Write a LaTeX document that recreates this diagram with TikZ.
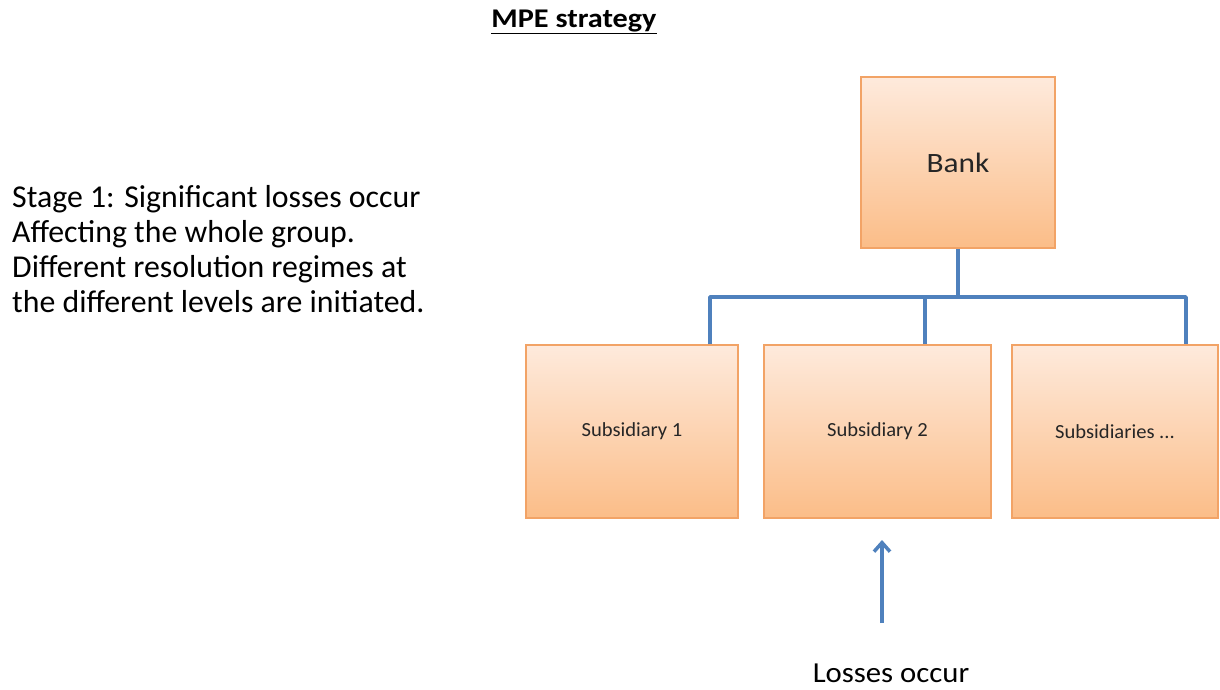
\documentclass[tikz,border=0pt]{standalone}
\usepackage{fontspec}
\setmainfont{Carlito}
\usetikzlibrary{arrows.meta}
\definecolor{boxtop}{HTML}{FEEADC}
\definecolor{boxbot}{HTML}{FBBD88}
\definecolor{boxline}{HTML}{F2A366}
\definecolor{conn}{HTML}{4F81BD}
\newcommand{\widetext}[2]{\scalebox{#1}[1]{#2}}
\tikzset{
  orgbox/.style={draw=boxline, line width=1.5pt, top color=boxtop, bottom color=boxbot, inner sep=0pt, text=black!85},
  link/.style={draw=conn, line width=3.5pt},
}
\begin{document}
\begin{tikzpicture}[x=1pt,y=-1pt]
\useasboundingbox (0,0) rectangle (1220,689);
\node[orgbox, minimum width=194pt, minimum height=171pt, font=\fontsize{28}{32}\selectfont] (bank) at (958,162.5) {\widetext{1.12}{Bank}};
\node[orgbox, minimum width=212pt, minimum height=173pt, font=\fontsize{20}{24}\selectfont] (s1) at (632,431.5) {\widetext{1.03}{Subsidiary 1}};
\node[orgbox, minimum width=227pt, minimum height=173pt, font=\fontsize{20}{24}\selectfont] (s2) at (877.5,431.5) {\widetext{1.03}{Subsidiary 2}};
\node[orgbox, minimum width=206pt, minimum height=173pt, font=\fontsize{20}{24}\selectfont] (s3) at (1115,431.5) {\widetext{1.03}{Subsidiaries ...}};
\coordinate (j) at (958,297);
\coordinate (jl) at (710,297);
\coordinate (jm) at (925,297);
\coordinate (jr) at (1186,297);
\draw[link] (bank.south) -- (j);
\draw[link, line join=round] (s1.north -| jl) -- (jl) -- (jr) -- (s3.north -| jr);
\draw[link] (jm) -- (s2.north -| jm);
\node[font=\bfseries\fontsize{27}{30}\selectfont] (title) at (574,22) {\widetext{1.12}{\underline{MPE strategy}}};
\node[anchor=west, align=left, font=\fontsize{31.8}{35}\selectfont, inner sep=0pt] (stage) at (12,249) {Stage 1: Significant losses occur\\Affecting the whole group.\\Different resolution regimes at\\the different levels are initiated.};
\node[font=\fontsize{29}{32}\selectfont, inner sep=1pt] (loss) at (891,673) {\widetext{1.06}{Losses occur}};
\coordinate (arrtail) at (882,623);
\draw[link, line width=3.5pt, -{Straight Barb[length=9pt,width=16pt]}] (arrtail) -- (882,540);
\end{tikzpicture}
\end{document}
